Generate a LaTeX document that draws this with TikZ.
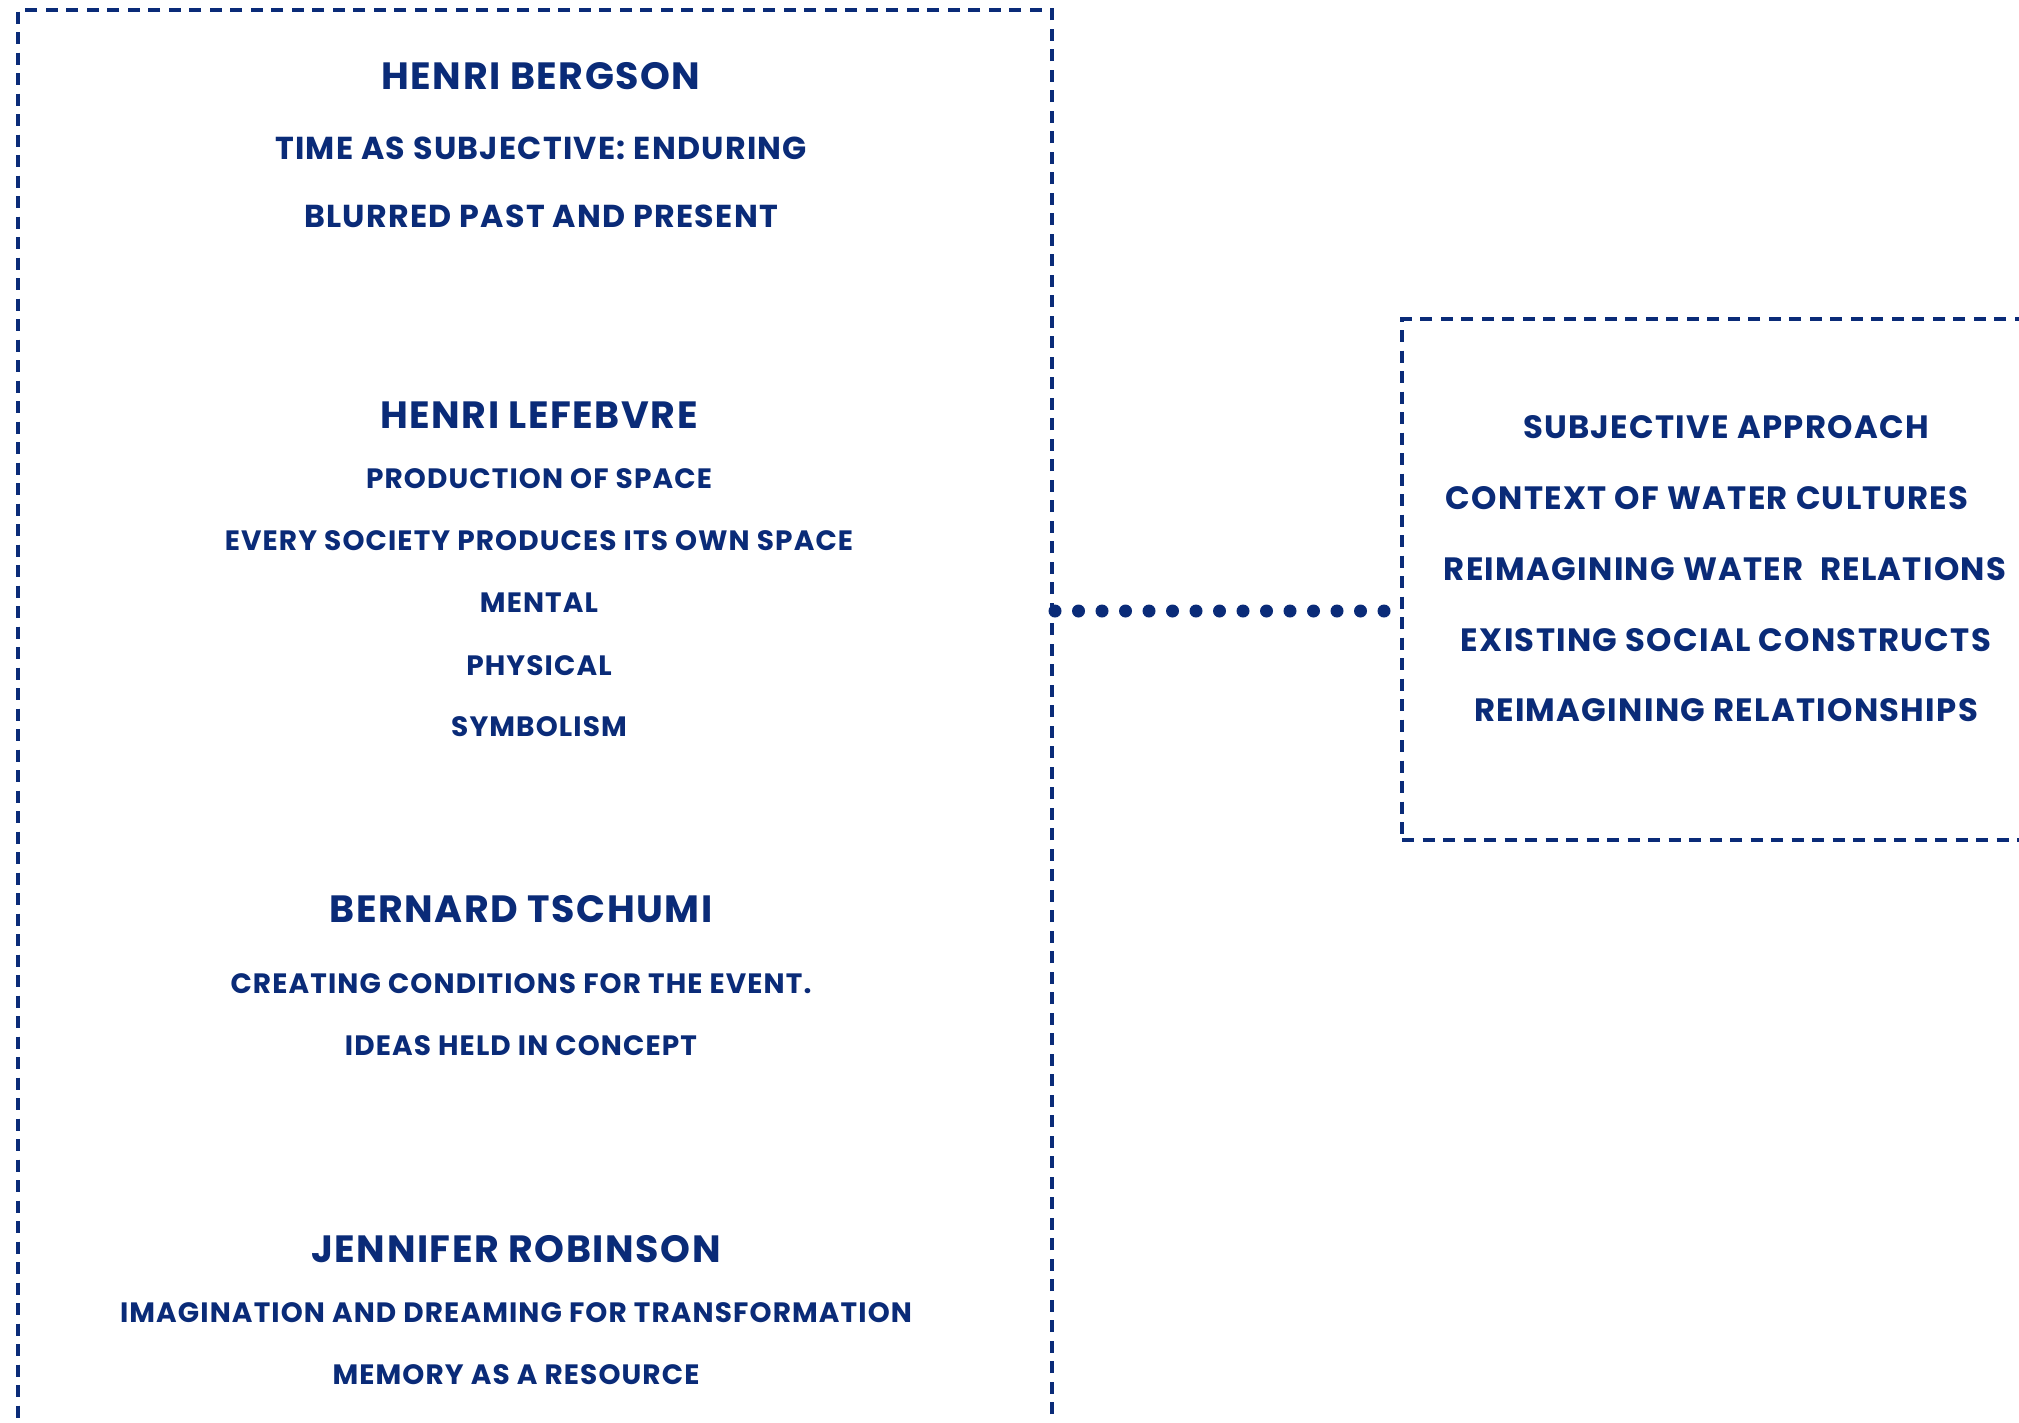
\documentclass[tikz,border=0pt]{standalone}
\usepackage{fontspec}
\setmainfont{Poppins}[BoldFont={* Bold},LetterSpace=4]
\definecolor{navy}{RGB}{10,43,120}
\begin{document}
\begin{tikzpicture}[x=1pt,y=-1pt,
  frame/.style={draw=navy,line width=3.2pt,dash pattern=on 12pt off 8.5pt,minimum width=#1,inner sep=0pt,outer sep=0pt},
  txt/.style={text=navy,inner sep=0pt,anchor=center},
  head/.style={txt,font=\bfseries\fontsize{38}{40}\selectfont},
  lead/.style={txt,font=\bfseries\fontsize{31.7}{34}\selectfont},
  item/.style={txt,font=\bfseries\fontsize{28}{30}\selectfont},
  theme/.style={txt,font=\bfseries\fontsize{32.3}{35}\selectfont},
  dotline/.style={navy,line width=13pt,line cap=round,dash pattern=on 0pt off 23.5pt}]
\clip (0,0) rectangle (2019,1422);
\fill[white] (0,0) rectangle (2019,1422);
% theorist column, open at the lower edge
\node[frame=1034pt,minimum height=1600pt] (theorists) at (535,810) {};
% synthesis box, open at the right edge
\node[frame=800pt,minimum height=521pt] (synthesis) at (1802,579.5) {};

% Henri Bergson
\node[head] (bergson) at (541,76) {HENRI BERGSON};
\node[lead] (b1) at (541,148) {TIME AS SUBJECTIVE: ENDURING};
\node[lead] (b2) at (541,216) {BLURRED PAST AND PRESENT};
% Henri Lefebvre
\node[head] (lefebvre) at (539,415) {HENRI LEFEBVRE};
\node[item] (l1) at (539,479) {PRODUCTION OF SPACE};
\node[item] (l2) at (539,541) {EVERY SOCIETY PRODUCES ITS OWN SPACE};
\node[item] (l3) at (539,603) {MENTAL};
\node[item] (l4) at (539,666) {PHYSICAL};
\node[item] (l5) at (539,727) {SYMBOLISM};
% Bernard Tschumi
\node[head] (tschumi) at (521,909) {BERNARD TSCHUMI};
\node[item] (t1) at (521,984) {CREATING CONDITIONS FOR THE EVENT.};
\node[item] (t2) at (521,1046) {IDEAS HELD IN CONCEPT};
% Jennifer Robinson
\node[head] (robinson) at (516,1249) {JENNIFER ROBINSON};
\node[item] (r1) at (516,1313) {IMAGINATION AND DREAMING FOR TRANSFORMATION};
\node[item] (r2) at (516,1375) {MEMORY AS A RESOURCE};

% synthesis themes
\node[theme] (s1) at (1726,427) {SUBJECTIVE APPROACH};
\node[theme] (s2) at (1707,498) {CONTEXT OF WATER CULTURES};
\node[theme] (s3) at (1725,569) {REIMAGINING WATER\ \ RELATIONS};
\node[theme] (s4) at (1726,640) {EXISTING SOCIAL CONSTRUCTS};
\node[theme] (s5) at (1726,710) {REIMAGINING RELATIONSHIPS};

% dotted link between the two boxes
\coordinate (link) at (0,611);
\draw[dotline] ([xshift=3pt]theorists.east |- link) -- ([xshift=-17pt]synthesis.west |- link);
\end{tikzpicture}
\end{document}
